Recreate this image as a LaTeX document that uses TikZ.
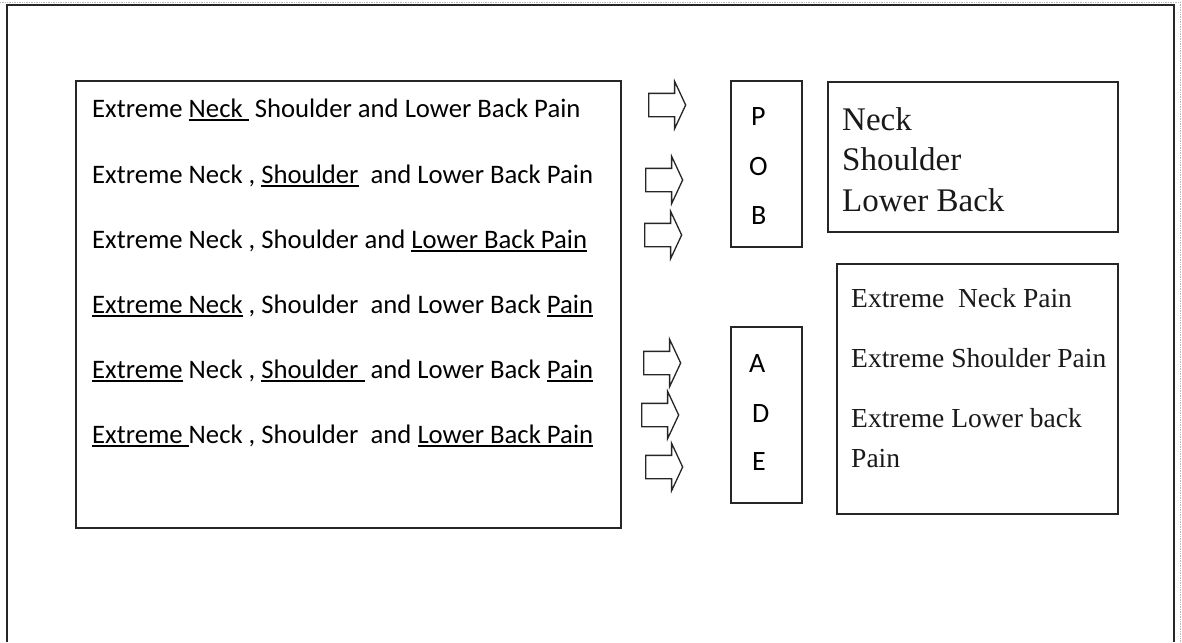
\documentclass[tikz,border=0pt]{standalone}
\usepackage{fontspec}
\setmainfont{Liberation Serif}
\newfontfamily\carl{Carlito}
\usetikzlibrary{shapes.arrows}
\newcommand\myul[1]{\setbox0\hbox{#1}\rlap{\rule[-3.6pt]{\wd0}{1.3pt}}\box0\relax}
\begin{document}
\begin{tikzpicture}[x=1pt,y=-1pt,
  frame/.style={draw=black!85, line width=1.6pt},
  ltxt/.style={anchor=base west, inner sep=0pt, font=\carl\fontsize{26.7}{30}\selectfont, text=black},
  letter/.style={anchor=base west, inner sep=0pt, font=\carl\fontsize{28}{32}\selectfont, text=black},
  bigser/.style={anchor=base west, inner sep=0pt, font=\fontsize{33}{40}\selectfont, text=black!90},
  ser/.style={anchor=base west, inner sep=0pt, font=\fontsize{27.5}{33}\selectfont, text=black!90},
  blockarrow/.style={single arrow, draw=black!85, line width=1.3pt, anchor=west,
    minimum height=37pt, inner xsep=0pt, inner ysep=11pt,
    single arrow head extend=12pt, single arrow tip angle=130}]
\useasboundingbox (0,0) rectangle (1182,642);
% faint scan dots
\draw[gray!55, densely dotted, line width=0.7pt] (0,2) -- (1182,2);
\draw[gray!55, densely dotted, line width=0.7pt] (1180,2) -- (1180,642);
% outer frame
\draw[frame] (7,642) -- (7,5) -- (1174,5) -- (1174,642);
% boxes
\draw[frame] (76,81) rectangle (621,528);
\draw[frame] (731,81) rectangle (802,247);
\draw[frame] (828,82) rectangle (1118,232);
\draw[frame] (731,327) rectangle (802,503);
\draw[frame] (837,264) rectangle (1118,514);
% left texts
\node[ltxt] (l1) at (92,117) {Extreme \myul{Neck\ } Shoulder and Lower Back Pain};
\node[ltxt] (l2) at (92,183) {Extreme Neck , \myul{Shoulder}\ \ and Lower Back Pain};
\node[ltxt] (l3) at (92,248) {Extreme Neck , Shoulder and \myul{Lower Back Pain}};
\node[ltxt] (l4) at (92,313) {\myul{Extreme Neck} , Shoulder\ \ and Lower Back \myul{Pain}};
\node[ltxt] (l5) at (92,378) {\myul{Extreme} Neck , \myul{Shoulder\ } and Lower Back \myul{Pain}};
\node[ltxt] (l6) at (92,443) {\myul{Extreme\ }Neck , Shoulder\ \ and \myul{Lower Back Pain}};
% arrows
\node[blockarrow] (a1) at (648,105) {};
\node[blockarrow] (a2) at (645,180) {};
\node[blockarrow] (a3) at (644,235) {};
\node[blockarrow] (a4) at (643,363) {};
\node[blockarrow] (a5) at (641,415) {};
\node[blockarrow] (a6) at (645,467) {};
% POB / ADE letters
\node[letter] (p) at (751,125) {P};
\node[letter] (o) at (749,175) {O};
\node[letter] (b) at (751,224) {B};
\node[letter] (a) at (749,372) {A};
\node[letter] (d) at (752,422) {D};
\node[letter] (e) at (752,470) {E};
% right top
\node[bigser] (r1) at (842,130) {Neck};
\node[bigser] (r2) at (842,170) {Shoulder};
\node[bigser] (r3) at (842,211) {Lower Back};
% right bottom
\node[ser] (s1) at (851,307) {Extreme\ \ Neck Pain};
\node[ser] (s2) at (851,367) {Extreme Shoulder Pain};
\node[ser] (s3) at (851,427) {Extreme Lower back};
\node[ser] (s4) at (851,467) {Pain};
\end{tikzpicture}
\end{document}
